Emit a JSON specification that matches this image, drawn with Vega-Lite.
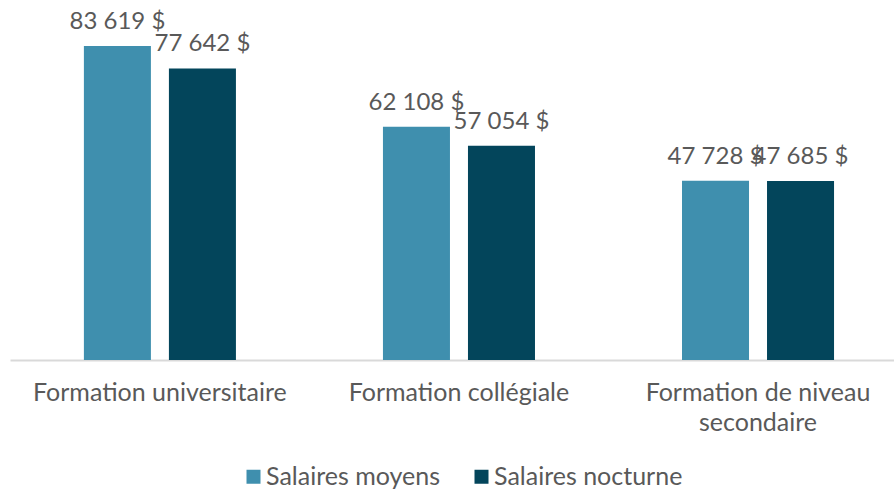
{
  "$schema": "https://vega.github.io/schema/vega-lite/v6.json",
  "width": 884,
  "height": 360,
  "autosize": {"type": "none"},
  "padding": {"left": 10, "top": 0, "right": 0, "bottom": 129},
  "background": "white",
  "config": {
    "view": {"stroke": null},
    "font": "Lato",
    "locale": {"number": {"decimal": ",", "thousands": " ", "grouping": [3], "currency": ["", " $"]}}
  },
  "data": {
    "values": [
      {"formation": "Formation universitaire", "serie": "Salaires moyens", "salaire": 83619},
      {"formation": "Formation universitaire", "serie": "Salaires nocturne", "salaire": 77642},
      {"formation": "Formation collégiale", "serie": "Salaires moyens", "salaire": 62108},
      {"formation": "Formation collégiale", "serie": "Salaires nocturne", "salaire": 57054},
      {"formation": "Formation de niveau secondaire", "serie": "Salaires moyens", "salaire": 47728},
      {"formation": "Formation de niveau secondaire", "serie": "Salaires nocturne", "salaire": 47685}
    ]
  },
  "encoding": {
    "x": {
      "field": "formation", "type": "nominal", "sort": null,
      "scale": {"paddingInner": 0.3, "paddingOuter": 0.128, "align": 0.591},
      "axis": {
        "title": null, "domainColor": "#d9d9d9", "domainWidth": 2, "ticks": false,
        "labelAngle": 0, "labelFontSize": 25, "labelColor": "#595959", "labelPadding": 20,
        "labelLineHeight": 30, "labelBaseline": "top", "labelLimit": 0,
        "labelExpr": "datum.label == 'Formation de niveau secondaire' ? ['Formation de niveau', 'secondaire'] : datum.label"
      }
    },
    "xOffset": {
      "field": "serie", "type": "nominal", "sort": ["Salaires moyens", "Salaires nocturne"],
      "scale": {"paddingInner": 0.2118, "paddingOuter": 0.337}
    },
    "y": {
      "field": "salaire", "type": "quantitative",
      "scale": {"domain": [0, 95870], "nice": false},
      "axis": null
    }
  },
  "layer": [
    {
      "mark": {"type": "bar"},
      "encoding": {
        "color": {
          "field": "serie", "type": "nominal",
          "scale": {"domain": ["Salaires moyens", "Salaires nocturne"], "range": ["#3F8FAE", "#03455B"]},
          "legend": {
            "title": null, "orient": "none", "direction": "horizontal",
            "legendX": 231, "legendY": 464, "padding": 0,
            "symbolType": "square", "symbolSize": 196, "symbolStrokeWidth": 0,
            "labelFontSize": 25, "labelColor": "#595959", "labelOffset": 0, "labelLimit": 400,
            "columnPadding": 28
          }
        }
      }
    },
    {
      "mark": {"type": "text", "dy": -17, "baseline": "alphabetic", "fontSize": 24, "color": "#595959"},
      "encoding": {
        "text": {"field": "salaire", "type": "quantitative", "format": "$,.0f"}
      }
    }
  ]
}
